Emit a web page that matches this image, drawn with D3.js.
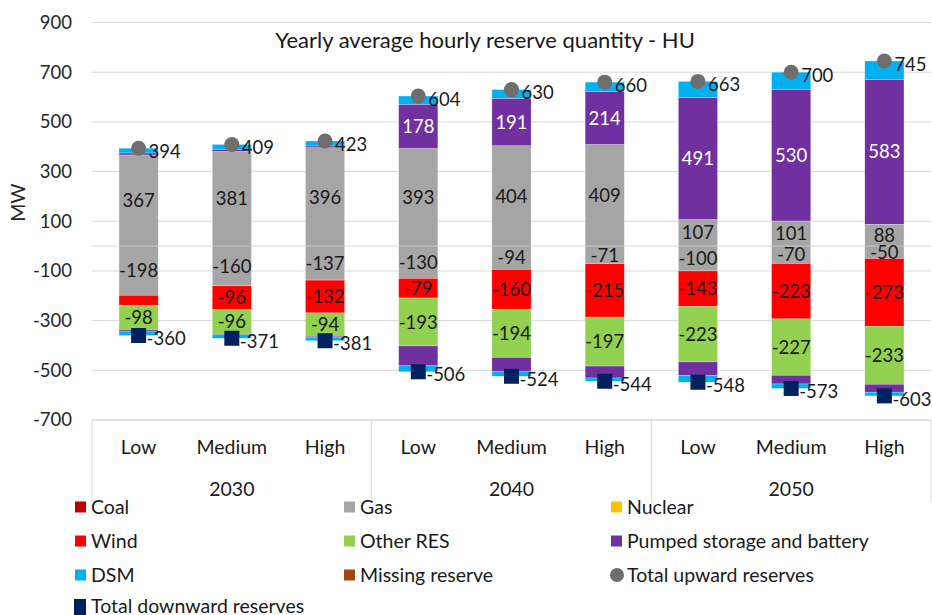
<!DOCTYPE html>
<html>
<head>
<meta charset="utf-8">
<script src="https://cdn.jsdelivr.net/npm/d3@7"></script>
<style>
  html, body { margin: 0; padding: 0; background: #fff; }
  svg { display: block; font-family: Lato, "Open Sans", sans-serif; }
</style>
</head>
<body>
<svg id="chart" width="932" height="615"></svg>
<script>
// ---------- data ----------
const years = ["2030", "2040", "2050"];
const levels = ["Low", "Medium", "High"];
const yTicks = [-700, -500, -300, -100, 100, 300, 500, 700, 900];

const seriesNames = ["Coal", "Gas", "Nuclear", "Wind", "Other RES", "Pumped storage and battery", "DSM", "Missing reserve"];
const seriesColors = ["#C00000", "#A5A5A5", "#FFC000", "#FF0000", "#92D050", "#7030A0", "#00B0F0", "#9E480E"];

// upward (positive) components, order of the 9 bars: 2030 L/M/H, 2040 L/M/H, 2050 L/M/H
const coalUp    = [0, 0, 0, 0, 0, 0, 0, 0, 0];
const gasUp     = [367, 381, 396, 393, 404, 409, 107, 101, 88];
const nuclearUp = [0, 0, 0, 0, 0, 0, 0, 0, 0];
const windUp    = [0, 0, 0, 0, 0, 0, 0, 0, 0];
const otherUp   = [0, 0, 0, 0, 0, 0, 0, 0, 0];
const pumpedUp  = [8, 9, 7, 178, 191, 214, 491, 530, 583];
const dsmUp     = [19, 19, 20, 33, 35, 37, 65, 69, 74];
const missingUp = [0, 0, 0, 0, 0, 0, 0, 0, 0];

// downward (negative) components
const coalDown    = [0, 0, 0, 0, 0, 0, 0, 0, 0];
const gasDown     = [-198, -160, -137, -130, -94, -71, -100, -70, -50];
const nuclearDown = [0, 0, 0, 0, 0, 0, 0, 0, 0];
const windDown    = [-40, -96, -132, -79, -160, -215, -143, -223, -273];
const otherDown   = [-98, -96, -94, -193, -194, -197, -223, -227, -233];
const pumpedDown  = [-6, -5, -6, -80, -58, -48, -54, -35, -32];
const dsmDown     = [-18, -14, -12, -24, -18, -13, -28, -18, -15];
const missingDown = [0, 0, 0, 0, 0, 0, 0, 0, 0];

const totalUp   = [394, 409, 423, 604, 630, 660, 663, 700, 745];
const totalDown = [-360, -371, -381, -506, -524, -544, -548, -573, -603];

// which series carry data labels (up / down), and labels hidden in the original
const labelledUp = ["Gas", "Pumped storage and battery"];
const labelledDown = ["Gas", "Wind", "Other RES"];
const hiddenLabels = [
  { series: "Wind", bar: 0 },
  { series: "Pumped storage and battery", bar: 0 },
  { series: "Pumped storage and battery", bar: 1 },
  { series: "Pumped storage and battery", bar: 2 }
];

// ---------- layout ----------
const svg = d3.select("#chart");
const plot = { left: 92, right: 931, top: 22.5, bottom: 420 };
const FONT_TXT = 19.5, FONT_NUM = 18.5;

const bars = [];
years.forEach(y => levels.forEach(l => bars.push({ year: y, level: l, id: y + "-" + l })));

const upArrays = [coalUp, gasUp, nuclearUp, windUp, otherUp, pumpedUp, dsmUp, missingUp];
const downArrays = [coalDown, gasDown, nuclearDown, windDown, otherDown, pumpedDown, dsmDown, missingDown];

const x = d3.scaleBand().domain(bars.map(b => b.id)).range([plot.left, plot.right])
  .paddingInner(0.58).paddingOuter(0.29);
const step = x.step();
const y = d3.scaleLinear().domain([-700, 900]).range([plot.bottom, plot.top]);

// gridlines
svg.append("g").selectAll("line").data(yTicks).join("line")
  .attr("x1", plot.left).attr("x2", plot.right)
  .attr("y1", d => y(d)).attr("y2", d => y(d))
  .attr("stroke", "#D9D9D9").attr("stroke-width", 1);
// zero axis line
svg.append("line").attr("x1", plot.left).attr("x2", plot.right)
  .attr("y1", y(0)).attr("y2", y(0)).attr("stroke", "#D9D9D9");

// y axis tick labels
const yAxis = d3.axisLeft(y).tickValues(yTicks).tickSize(0).tickPadding(20).tickFormat(d => String(d));
const yg = svg.append("g").attr("transform", `translate(${plot.left},0)`).call(yAxis);
yg.select(".domain").remove();
yg.selectAll("text").attr("font-size", FONT_NUM).attr("fill", "#262626")
  .attr("font-family", "Lato, 'Open Sans', sans-serif");

// y axis title
svg.append("text").attr("transform", `translate(25,${y(175)}) rotate(-90)`)
  .attr("text-anchor", "middle").attr("font-size", FONT_TXT).attr("fill", "#262626").text("MW");

// title
svg.append("text").attr("x", 485).attr("y", 48).attr("text-anchor", "middle")
  .attr("font-size", 22).attr("fill", "#1a1a1a")
  .text("Yearly average hourly reserve quantity - HU");

// category axis box
const catG = svg.append("g");
const boxBottom = 502;
catG.append("line").attr("x1", plot.left).attr("x2", plot.right)
  .attr("y1", plot.bottom).attr("y2", plot.bottom).attr("stroke", "#D9D9D9");
[0, 3, 6, 9].forEach(i => {
  const xx = plot.left + i * step;
  catG.append("line").attr("x1", xx).attr("x2", xx)
    .attr("y1", plot.bottom).attr("y2", boxBottom).attr("stroke", "#D9D9D9");
});
catG.selectAll("text.lvl").data(bars).join("text").attr("class", "lvl")
  .attr("x", d => x(d.id) + x.bandwidth() / 2).attr("y", 447)
  .attr("dy", "0.36em").attr("text-anchor", "middle").attr("font-size", FONT_TXT).attr("fill", "#1a1a1a")
  .text(d => d.level);
catG.selectAll("text.yr").data(years).join("text").attr("class", "yr")
  .attr("x", (d, i) => plot.left + (i * 3 + 1.5) * step).attr("y", 489)
  .attr("dy", "0.36em").attr("text-anchor", "middle").attr("font-size", FONT_TXT).attr("fill", "#1a1a1a")
  .text(d => d);

// stacked segments
const segs = [];
bars.forEach((b, bi) => {
  let pos = 0, neg = 0;
  seriesNames.forEach((s, si) => {
    const v = upArrays[si][bi];
    if (v > 0) { segs.push({ bar: bi, id: b.id, series: s, si, v, y0: pos, y1: pos + v, dir: "up" }); pos += v; }
  });
  seriesNames.forEach((s, si) => {
    const v = downArrays[si][bi];
    if (v < 0) { segs.push({ bar: bi, id: b.id, series: s, si, v, y0: neg, y1: neg + v, dir: "down" }); neg += v; }
  });
});

const segG = svg.append("g");
segG.selectAll("rect").data(segs).join("rect")
  .attr("x", d => x(d.id)).attr("width", x.bandwidth())
  .attr("y", d => y(Math.max(d.y0, d.y1)))
  .attr("height", d => Math.abs(y(d.y0) - y(d.y1)))
  .attr("fill", d => seriesColors[d.si])
  .attr("stroke", "#ffffff").attr("stroke-width", 0.5).attr("stroke-opacity", 0.5);

const lblSegs = segs.filter(d =>
  (d.dir === "up" ? labelledUp : labelledDown).includes(d.series) &&
  !hiddenLabels.some(h => h.series === d.series && h.bar === d.bar));
segG.selectAll("text").data(lblSegs).join("text")
  .attr("x", d => x(d.id) + x.bandwidth() / 2)
  .attr("y", d => (y(d.y0) + y(d.y1)) / 2)
  .attr("dy", "0.36em").attr("text-anchor", "middle").attr("font-size", FONT_NUM)
  .attr("fill", d => d.series === "Pumped storage and battery" ? "#ffffff" : "#1a1a1a")
  .text(d => d.v);

// markers
const mk = svg.append("g");
mk.selectAll("circle").data(totalUp).join("circle")
  .attr("cx", (d, i) => x(bars[i].id) + x.bandwidth() / 2).attr("cy", d => y(d))
  .attr("r", 7.5).attr("fill", "#6E6E6E");
mk.selectAll("rect").data(totalDown).join("rect")
  .attr("x", (d, i) => x(bars[i].id) + x.bandwidth() / 2 - 7.5).attr("y", d => y(d) - 7.5)
  .attr("width", 15).attr("height", 15).attr("fill", "#002060");
mk.selectAll("text.up").data(totalUp).join("text").attr("class", "up")
  .attr("x", (d, i) => x(bars[i].id) + x.bandwidth() / 2 + 10).attr("y", d => y(d) + 3)
  .attr("dy", "0.36em").attr("font-size", FONT_NUM).attr("fill", "#1a1a1a").text(d => d);
mk.selectAll("text.dn").data(totalDown).join("text").attr("class", "dn")
  .attr("x", (d, i) => x(bars[i].id) + x.bandwidth() / 2 + 8).attr("y", d => y(d) + 3)
  .attr("dy", "0.36em").attr("font-size", FONT_NUM).attr("fill", "#1a1a1a").text(d => d);

// legend
const legendItems = seriesNames.map((n, i) => ({ name: n, color: seriesColors[i], shape: "rect" }))
  .concat([{ name: "Total upward reserves", color: "#6E6E6E", shape: "circle" },
           { name: "Total downward reserves", color: "#002060", shape: "square" }]);
const colX = [75, 344, 611];
const rowY = [507, 541, 575, 606];
const lg = svg.append("g");
legendItems.forEach((it, i) => {
  const cx = colX[i % 3], cy = rowY[Math.floor(i / 3)];
  if (it.shape === "circle") {
    lg.append("circle").attr("cx", cx + 6).attr("cy", cy).attr("r", 7).attr("fill", it.color);
  } else if (it.shape === "square") {
    lg.append("rect").attr("x", cx - 1).attr("y", cy - 7).attr("width", 12).attr("height", 16).attr("fill", it.color);
  } else {
    lg.append("rect").attr("x", cx).attr("y", cy - 5.5).attr("width", 11).attr("height", 11).attr("fill", it.color);
  }
  lg.append("text").attr("x", cx + 16).attr("y", cy).attr("dy", "0.36em")
    .attr("font-size", FONT_TXT).attr("fill", "#1a1a1a").text(it.name);
});
</script>
</body>
</html>
